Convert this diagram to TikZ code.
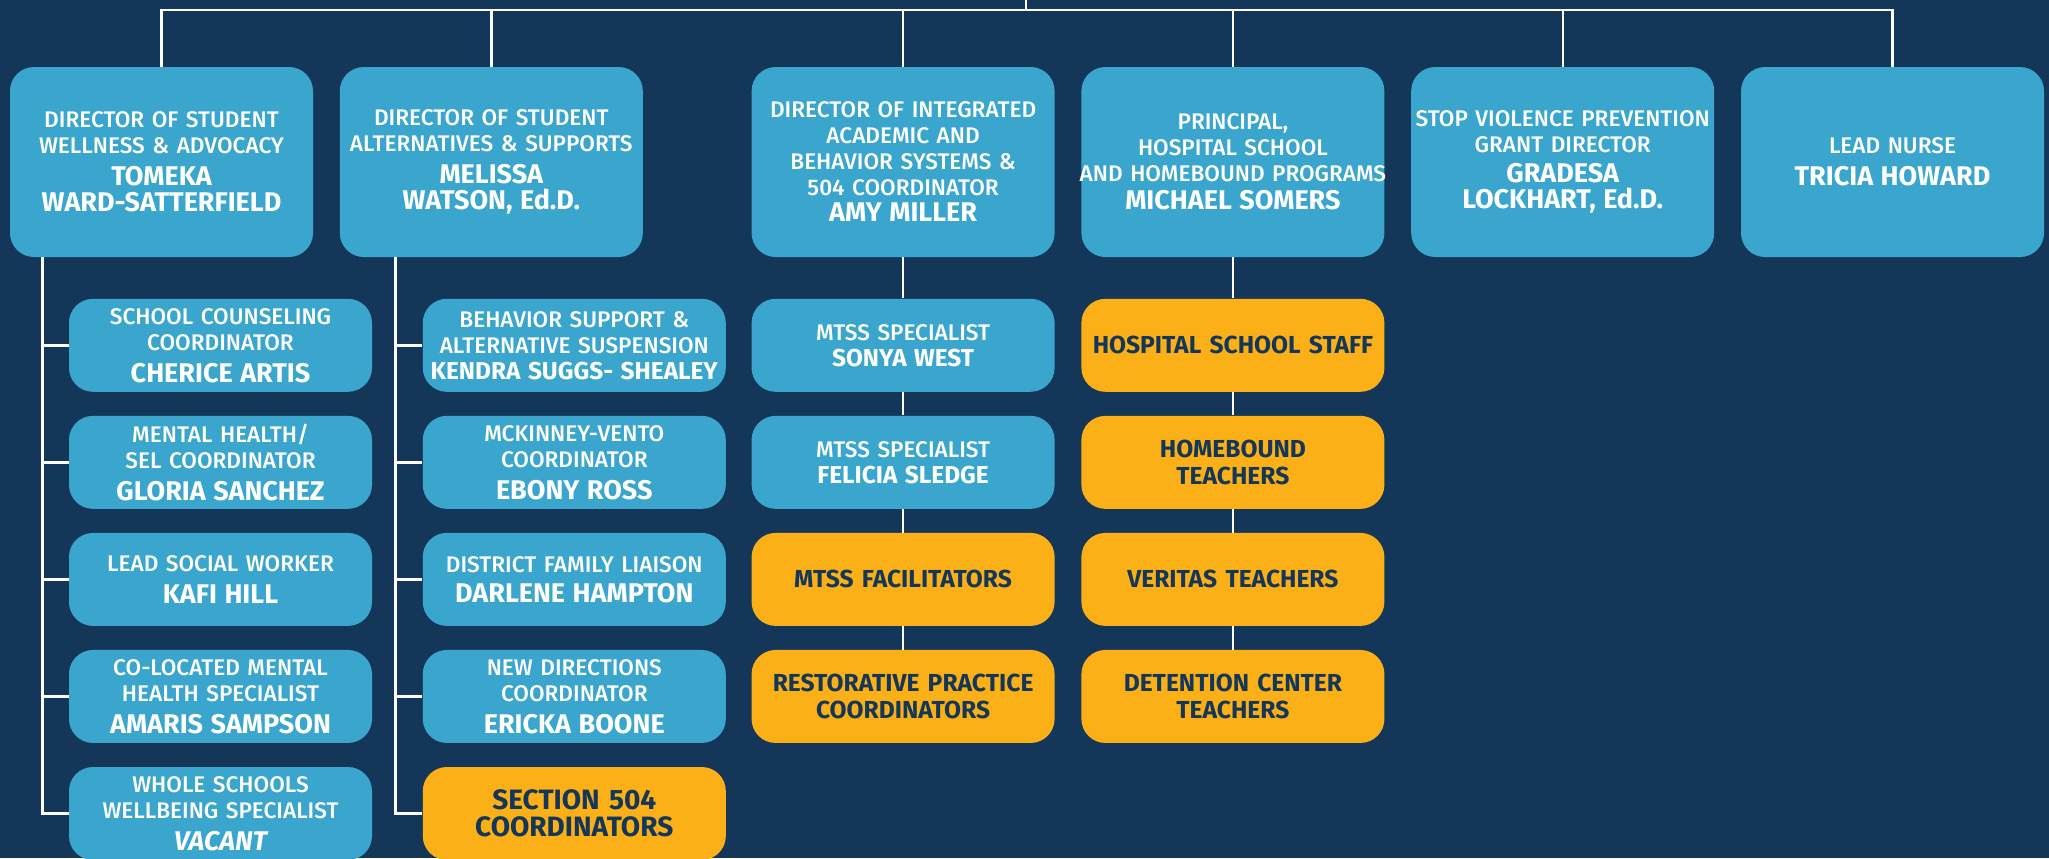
\documentclass[tikz,border=0pt]{standalone}
\usepackage{fontspec}
\setmainfont{Fira Sans}
\newfontfamily\titleface{Fira Sans Medium}
\usetikzlibrary{positioning}
\definecolor{navyback}{RGB}{20,55,89}
\definecolor{boxblue}{RGB}{58,166,206}
\definecolor{teamgold}{RGB}{251,176,24}
\newcommand{\titlefont}{\titleface\fontsize{11.3}{13}\selectfont}
\newcommand{\namefont}{\normalfont\fontsize{13.5}{13}\selectfont\bfseries}
\newcommand{\smallname}{\normalfont\fontsize{12.2}{12}\selectfont\bfseries}
\newcommand{\teamfont}{\fontsize{12.3}{13.5}\selectfont\bfseries}
\tikzset{%
    base/.style = {
        rectangle, rounded corners=12pt, minimum width=151.5pt,
        text width=165pt, inner xsep=-6.75pt, inner ysep=0pt,
        align=center, text=white
    },
    head/.style = {base, fill=boxblue, minimum height=95pt, font=\titlefont},
    staff/.style = {base, fill=boxblue, minimum height=46.5pt, font=\titlefont},
    team/.style = {base, fill=teamgold, minimum height=46.5pt, text=navyback, font=\teamfont},
    link/.style = {draw=white, line width=1.2pt},
}

\begin{document}
\begin{tikzpicture}[node distance=11.625pt]
        % Background
        \fill[navyback] (0,0) rectangle (1024.5pt,-429pt);
        \useasboundingbox (0,0) rectangle (1024.5pt,-429pt);

        % Nodes position
        \node (wellness)     [head] at (80.75pt,-81pt)
                                {DIRECTOR OF STUDENT\\ WELLNESS \& ADVOCACY\\[3pt]
                                 \namefont TOMEKA\\ WARD-SATTERFIELD};
        \node (alternatives) [head, right=13pt of wellness]
                                {DIRECTOR OF STUDENT\\ ALTERNATIVES \& SUPPORTS\\[3pt]
                                 \namefont MELISSA\\ WATSON, Ed.D.};
        \node (integrated)   [head, right=54pt of alternatives]
                                {DIRECTOR OF INTEGRATED\\ ACADEMIC AND\\ BEHAVIOR SYSTEMS \&\\
                                 504 COORDINATOR\\ \namefont AMY MILLER};
        \node (hospital)     [head, right=13pt of integrated]
                                {PRINCIPAL,\\ HOSPITAL SCHOOL\\ AND HOMEBOUND PROGRAMS\\[1pt]
                                 \namefont MICHAEL SOMERS};
        \node (violence)     [head, right=13pt of hospital]
                                {STOP VIOLENCE PREVENTION\\ GRANT DIRECTOR\\[2pt]
                                 \namefont GRADESA\\ LOCKHART, Ed.D.};
        \node (nurse)        [head, right=13pt of violence]
                                {LEAD NURSE\\[3pt] \namefont TRICIA HOWARD};

        \node (counsel)   [staff, below right=20.5pt and 29.5pt of wellness.south west]
                                {SCHOOL COUNSELING\\ COORDINATOR\\[3pt] \namefont CHERICE ARTIS};
        \node (mental)    [staff, below=of counsel]
                                {MENTAL HEALTH/\\ SEL COORDINATOR\\[3pt] \namefont GLORIA SANCHEZ};
        \node (social)    [staff, below=of mental]
                                {LEAD SOCIAL WORKER\\[3pt] \namefont KAFI HILL};
        \node (colocated) [staff, below=of social]
                                {CO-LOCATED MENTAL\\ HEALTH SPECIALIST\\[3pt] \namefont AMARIS SAMPSON};
        \node (wellbeing) [staff, below=of colocated]
                                {WHOLE SCHOOLS\\ WELLBEING SPECIALIST\\[3pt] \namefont\itshape VACANT};

        \node (behavior)  [staff, below right=20.5pt and 41.5pt of alternatives.south west]
                                {BEHAVIOR SUPPORT \&\\ ALTERNATIVE SUSPENSION\\
                                 \smallname KENDRA SUGGS- SHEALEY};
        \node (mckinney)  [staff, below=of behavior]
                                {MCKINNEY-VENTO\\ COORDINATOR\\[3pt] \namefont EBONY ROSS};
        \node (liaison)   [staff, below=of mckinney]
                                {DISTRICT FAMILY LIAISON\\[2pt] \namefont DARLENE HAMPTON};
        \node (newdir)    [staff, below=of liaison]
                                {NEW DIRECTIONS\\ COORDINATOR\\[3pt] \namefont ERICKA BOONE};
        \node (sec504)    [team, below=of newdir, font=\fontsize{14}{13.5}\selectfont\bfseries]
                                {SECTION 504\\ COORDINATORS};

        \node (mtssA)     [staff, below=20.5pt of integrated]
                                {MTSS SPECIALIST\\ \smallname SONYA WEST};
        \node (mtssB)     [staff, below=of mtssA]
                                {MTSS SPECIALIST\\ \smallname FELICIA SLEDGE};
        \node (facil)     [team, below=of mtssB] {MTSS FACILITATORS};
        \node (restor)    [team, below=of facil] {RESTORATIVE PRACTICE\\ COORDINATORS};

        \node (hospstaff) [team, below=20.5pt of hospital] {HOSPITAL SCHOOL STAFF};
        \node (homebound) [team, below=of hospstaff] {HOMEBOUND\\ TEACHERS};
        \node (veritas)   [team, below=of homebound] {VERITAS TEACHERS};
        \node (detention) [team, below=of veritas] {DETENTION CENTER\\ TEACHERS};

        \coordinate (parent) at (513pt,0);
        \coordinate (bus) at (0,-5pt);
        \coordinate (spineA) at ([xshift=16.5pt]wellness.south west);
        \coordinate (spineB) at ([xshift=28pt]alternatives.south west);

        % Line specification
        \draw[link] (parent) -- (parent |- bus);
        \draw[link] (wellness.north) -- (wellness.north |- bus) -- (nurse.north |- bus) -- (nurse.north);
        \foreach \n in {alternatives, integrated, hospital, violence}
            \draw[link] (\n.north) -- (\n.north |- bus);

        \draw[link] (spineA) |- (wellbeing.west);
        \foreach \n in {counsel, mental, social, colocated}
            \draw[link] (spineA |- \n.west) -- (\n.west);
        \draw[link] (spineB) |- (sec504.west);
        \foreach \n in {behavior, mckinney, liaison, newdir}
            \draw[link] (spineB |- \n.west) -- (\n.west);

        \draw[link] (integrated) -- (mtssA);
        \draw[link] (mtssA) -- (mtssB);
        \draw[link] (mtssB) -- (facil);
        \draw[link] (facil) -- (restor);
        \draw[link] (hospital) -- (hospstaff);
        \draw[link] (hospstaff) -- (homebound);
        \draw[link] (homebound) -- (veritas);
        \draw[link] (veritas) -- (detention);
    \end{tikzpicture}
\end{document}
